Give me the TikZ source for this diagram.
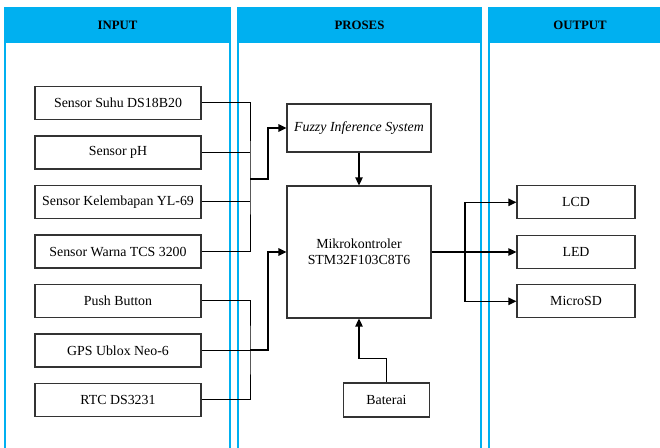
\documentclass[tikz,border=0pt]{standalone}
\usepackage{fontspec}
\setmainfont{Liberation Serif}
\usetikzlibrary{arrows.meta}
\definecolor{panelblue}{HTML}{00B0F0}
\begin{document}
\begin{tikzpicture}[x=0.75pt,y=-0.75pt,
    box/.style={draw=black!80, line width=0.8pt, fill=white, font=\fontsize{10.4}{12}\selectfont},
    inbox/.style={box, minimum width=124.5pt, minimum height=24.75pt},
    outbox/.style={box, minimum width=88.5pt, minimum height=24.75pt},
    hdrtext/.style={font=\fontsize{9.6}{11}\selectfont\bfseries},
    wire/.style={line width=0.75pt},
    bus/.style={line width=1.5pt},
    arr/.style={line width=1pt, -{Triangle[length=6pt,width=5.5pt]}},
    busarr/.style={line width=1.5pt, -{Triangle[length=6pt,width=5.5pt]}}]
  \useasboundingbox (0,0) rectangle (660,448);

  % Panels with their headers
  \foreach \xa/\xb in {5/230, 238/481, 489/672} {
    \fill[panelblue] (\xa,8) rectangle (\xb,43);
    \draw[panelblue, line width=1.3pt] (\xa,8) rectangle (\xb,470);
  }
  \node[hdrtext] (tin) at (117.5,25.5) {INPUT};
  \node[hdrtext] (tpro) at (359.5,25.5) {PROSES};
  \node[hdrtext] (tout) at (580,25.5) {OUTPUT};

  % Input blocks
  \node[inbox] (suhu) at (118,103) {Sensor Suhu DS18B20};
  \node[inbox] (ph) at (118,152.5) {Sensor pH};
  \node[inbox] (lembap) at (118,202) {Sensor Kelembapan YL-69};
  \node[inbox] (warna) at (118,251.5) {Sensor Warna TCS 3200};
  \node[inbox] (push) at (118,301) {Push Button};
  \node[inbox] (gps) at (118,350.5) {GPS Ublox Neo-6};
  \node[inbox] (rtc) at (118,400) {RTC DS3231};

  % Process blocks
  \node[box, minimum width=108pt, minimum height=36pt] (fis) at (359,128) {\textit{Fuzzy Inference System}};
  \node[box, minimum width=108pt, minimum height=99pt, align=center] (mcu) at (359,252) {Mikrokontroler\\STM32F103C8T6};
  \node[box, minimum width=65pt, minimum height=25.5pt] (bat) at (386.5,400) {Baterai};

  % Output blocks
  \node[outbox] (lcd) at (576,202.3) {LCD};
  \node[outbox] (led) at (576,252) {LED};
  \node[outbox] (sd) at (576,301.3) {MicroSD};

  % Sensors to fuzzy inference
  \coordinate (j1) at (250,178.7);
  \draw[wire] (suhu.east) -| (j1) |- (warna.east);
  \draw[wire] (ph.east) -- (ph.east -| j1);
  \draw[wire] (lembap.east) -- (lembap.east -| j1);
  \draw[busarr] (j1) -- ++(18,0) |- (fis.west);

  % Other inputs to microcontroller
  \coordinate (j2) at (250,350.5);
  \draw[wire] (push.east) -| (j2) |- (rtc.east);
  \draw[wire] (gps.east) -- (j2);
  \draw[busarr] (j2) -- ++(18,0) |- (mcu.west);

  % Process links
  \draw[arr] (fis) -- (mcu);
  \draw[arr] (bat.north) -- ++(0,-24) -| (mcu.south);

  % Microcontroller to outputs
  \coordinate (j3) at (465,252);
  \draw[bus] (mcu.east) -- (j3);
  \draw[arr] (j3) |- (lcd.west);
  \draw[arr] (j3) -- (led.west);
  \draw[arr] (j3) |- (sd.west);
\end{tikzpicture}
\end{document}
